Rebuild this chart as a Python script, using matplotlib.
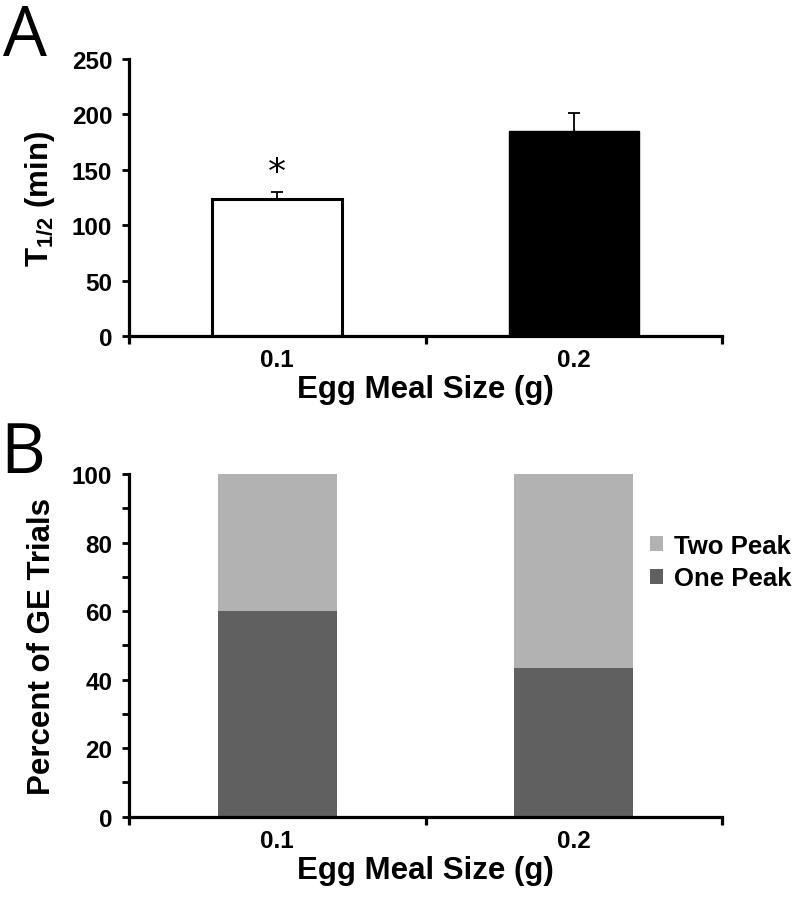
import matplotlib
matplotlib.use("Agg")
import matplotlib.pyplot as plt
import numpy as np

# ---- data ----
categories = ["0.1", "0.2"]
t_half = [124, 185]
t_half_err = [6, 16]
one_peak = [60, 43.3]
two_peak = [40, 56.7]
a_yticks = [0, 50, 100, 150, 200, 250]
b_yticks = [0, 20, 40, 60, 80, 100]

plt.rcParams['font.family'] = ['Liberation Sans', 'DejaVu Sans']
plt.rcParams['mathtext.fontset'] = 'custom'
plt.rcParams['mathtext.rm'] = 'Liberation Sans:bold'
plt.rcParams['mathtext.it'] = 'Liberation Sans:bold'
plt.rcParams['mathtext.bf'] = 'Liberation Sans:bold'

TICK_FS = 17.5
LABEL_FS = 22.5

fig = plt.figure(figsize=(8, 9.03), dpi=100)

axA = fig.add_axes([129/800, 1-337/903, (722-129)/800, (337-60)/903])
axB = fig.add_axes([129/800, 1-817.7/903, (722-129)/800, (817.7-475)/903])

x = np.arange(len(categories))

def style(ax):
    for s in ['top', 'right']:
        ax.spines[s].set_visible(False)
    for s in ['left', 'bottom']:
        ax.spines[s].set_linewidth(2.3)
    ax.set_xlim(-0.5, 1.5)
    ax.set_xticks(x)
    ax.set_xticklabels(categories, fontsize=TICK_FS, fontweight='bold')
    ax.tick_params(axis='x', which='major', length=0, pad=9)
    ax.set_xticks([-0.5, 0.5, 1.5], minor=True)
    ax.tick_params(axis='x', which='minor', length=6, width=2.3, direction='out')
    ax.tick_params(axis='y', which='both', direction='out', width=2.0, labelsize=TICK_FS)
    ax.tick_params(axis='y', which='major', length=5, pad=7)
    for lab in ax.get_yticklabels():
        lab.set_fontweight('bold')
    ax.set_xlabel("Egg Meal Size (g)", fontsize=LABEL_FS, fontweight='bold', labelpad=2)

# Panel A
axA.bar(x[0], t_half[0], width=0.44, color='white', edgecolor='black', linewidth=2.2, zorder=2)
axA.bar(x[1], t_half[1], width=0.44, color='black', edgecolor='black', linewidth=1, zorder=2)
eb = axA.errorbar(x, t_half, yerr=[[0, 0], t_half_err], fmt='none', ecolor='black',
                  elinewidth=1.3, capsize=4, capthick=1.3, zorder=1)
eb[1][0].set_visible(False)
axA.text(x[0], 148, "*", ha='center', va='center', fontsize=26, fontfamily='DejaVu Sans')
axA.set_ylim(0, 250)
axA.set_yticks(a_yticks)
style(axA)
axA.set_ylabel(r"$\mathregular{T_{1/2}}$ (min)", fontsize=LABEL_FS, fontweight='bold', labelpad=11)
for lab in axA.get_yticklabels():
    lab.set_fontweight('bold')

# Panel B
axB.bar(x, one_peak, width=0.40, color='#606060', label='One Peak', zorder=2)
axB.bar(x, two_peak, width=0.40, bottom=one_peak, color='#b2b2b2', label='Two Peak', zorder=2)
axB.set_ylim(0, 100)
axB.set_yticks(b_yticks)
axB.set_yticks(np.arange(0, 101, 10), minor=True)
style(axB)
axB.tick_params(axis='y', which='minor', length=5, width=2.0)
axB.set_ylabel("Percent of GE Trials", fontsize=LABEL_FS, fontweight='bold', labelpad=11)
for lab in axB.get_yticklabels():
    lab.set_fontweight('bold')

h, l = axB.get_legend_handles_labels()
fig.legend(h[::-1], l[::-1], loc='center left', bbox_to_anchor=(650/800, 1-563/903),
           frameon=False, prop={'weight': 'bold', 'size': 18.5},
           handlelength=0.5, handleheight=0.5, handletextpad=0.45, labelspacing=0.35,
           borderpad=0, borderaxespad=0)

fig.text(3/800, 1-38/903, "A", fontsize=50, fontfamily='Open Sans', va='center', ha='left')
fig.text(0/800, 1-455/903, "B", fontsize=50, fontfamily='Open Sans', va='center', ha='left')

fig.savefig("out.png", dpi=100)
